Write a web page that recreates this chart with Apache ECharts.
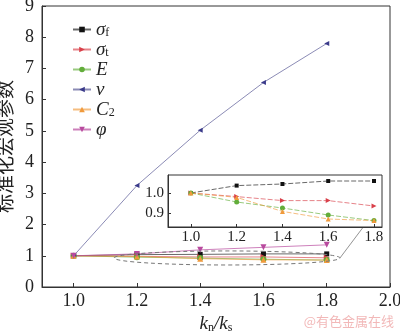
<!DOCTYPE html>
<html>
<head>
<meta charset="utf-8">
<script src="https://cdn.jsdelivr.net/npm/echarts@6/dist/echarts.min.js"></script>
<style>
  html, body { margin: 0; padding: 0; background: #fff; }
  #chart { width: 400px; height: 334px; }
</style>
</head>
<body>
<div id="chart"></div>
<script>
// Stiffness ratio kn/ks
var kRatio = [1.0, 1.2, 1.4, 1.6, 1.8];
// Normalised macro parameters
var sigmaF = [1.0, 1.037, 1.045, 1.06, 1.06];
var sigmaT = [1.0, 0.982, 0.962, 0.962, 0.935];
var modE   = [1.0, 0.955, 0.925, 0.89, 0.862];
var nu     = [1.0, 3.25, 5.02, 6.55, 7.8];
var c2     = [1.0, 0.978, 0.908, 0.87, 0.862];
var phi    = [1.0, 1.06, 1.19, 1.27, 1.35];

var xTicks = [1.0, 1.2, 1.4, 1.6, 1.8, 2.0];
var insetXTicks = [1.0, 1.2, 1.4, 1.6, 1.8];
var insetYTicks = [0.9, 1.0];

var serif = 'Liberation Serif, Times New Roman, serif';

function pairs(ys) { return kRatio.map(function (k, i) { return [k, ys[i]]; }); }

var defs = [
  { name: 'σf', data: sigmaF, color: '#111111', line: 'rgba(40,40,40,0.7)', symbol: 'rect', size: 5, inset: true },
  { name: 'σt', data: sigmaT, color: '#d9404a', line: 'rgba(217,64,74,0.65)', symbol: 'path://M0,0 L10,5 L0,10 Z', size: 6, inset: true },
  { name: 'E',  data: modE,   color: '#62ad3a', line: 'rgba(98,173,58,0.65)', symbol: 'circle', size: 6, inset: true },
  { name: 'v',  data: nu,     color: '#3a3a8a', line: 'rgba(90,90,150,0.7)', symbol: 'path://M10,0 L0,5 L10,10 Z', size: 5, inset: false },
  { name: 'C2', data: c2,     color: '#f09a3c', line: 'rgba(240,154,60,0.65)', symbol: 'triangle', size: 6, inset: true },
  { name: 'φ',  data: phi,    color: '#b84a9e', line: 'rgba(184,74,158,0.7)', symbol: 'path://M0,0 L10,0 L5,10 Z', size: 6, inset: false }
];

var series = [];
defs.forEach(function (d) {
  series.push({
    type: 'line', name: d.name, xAxisIndex: 0, yAxisIndex: 0,
    data: pairs(d.data), symbol: d.symbol, symbolSize: d.size,
    itemStyle: { color: d.color },
    lineStyle: { color: d.line, width: 1 },
    emphasis: { disabled: true }, animation: false, z: 3
  });
});
defs.forEach(function (d) {
  if (!d.inset) return;
  series.push({
    type: 'line', name: d.name + '_inset', xAxisIndex: 1, yAxisIndex: 1,
    data: pairs(d.data), symbol: d.symbol, symbolSize: d.size - 1,
    itemStyle: { color: d.color },
    lineStyle: { color: d.line, width: 1, type: [5, 2] },
    emphasis: { disabled: true }, animation: false, clip: true, z: 6
  });
});

var legendRich = {
  i: { fontFamily: serif, fontStyle: 'italic', fontSize: 19, color: '#222', lineHeight: 18 },
  s: { fontFamily: serif, fontSize: 12, color: '#222', lineHeight: 18, verticalAlign: 'bottom', padding: [6, 0, 0, 0] }
};
var legendText = {
  'σf': '{i|σ}{s|f}', 'σt': '{i|σ}{s|t}', 'E': '{i|E}', 'v': '{i|v}', 'C2': '{i|C}{s|2}', 'φ': '{i|φ}'
};

var chart = echarts.init(document.getElementById('chart'), null, { renderer: 'canvas' });

var option = {
  backgroundColor: '#fff',
  animation: false,
  legend: {
    data: defs.map(function (d) { return d.name; }),
    orient: 'vertical', left: 72, top: 20, itemGap: 1, padding: 0,
    itemWidth: 18, itemHeight: 7,
    formatter: function (n) { return legendText[n]; },
    textStyle: { rich: legendRich, fontSize: 19, lineHeight: 18 }
  },
  grid: [
    { left: 42, right: 10, top: 6, bottom: 47, outerBoundsMode: 'none', containLabel: false, show: true, borderColor: '#333', borderWidth: 1, backgroundColor: 'transparent' },
    { left: 168, top: 175, width: 214, height: 52, outerBoundsMode: 'none', containLabel: false, show: true, borderColor: '#333', borderWidth: 1, backgroundColor: '#fff', z: 5 }
  ],
  xAxis: [
    {
      type: 'value', gridIndex: 0, min: 0.9, max: 2.0,
      name: '{i|k}{s|n}{i|/k}{s|s}', nameLocation: 'middle', nameGap: 26,
      nameTextStyle: { rich: legendRich },
      axisLine: { lineStyle: { color: '#333' } },
      axisTick: { inside: true, length: 4, customValues: xTicks, lineStyle: { color: '#333' } },
      axisLabel: { customValues: xTicks, formatter: function (v) { return v.toFixed(1); }, fontFamily: serif, fontSize: 18, color: '#222', margin: 5 },
      splitLine: { show: false }
    },
    {
      type: 'value', gridIndex: 1, min: 0.9, max: 1.835,
      axisLine: { lineStyle: { color: '#333' } },
      axisTick: { inside: true, length: 3, customValues: insetXTicks, lineStyle: { color: '#333' } },
      axisLabel: { customValues: insetXTicks, formatter: function (v) { return v.toFixed(1); }, fontFamily: serif, fontSize: 15, color: '#222', margin: 3 },
      splitLine: { show: false }, z: 6
    }
  ],
  yAxis: [
    {
      type: 'value', gridIndex: 0, min: 0, max: 9, interval: 1,
      name: '标准化宏观参数', nameLocation: 'middle', nameGap: 22,
      nameTextStyle: { fontFamily: 'Noto Sans CJK SC', fontSize: 19, color: '#222' },
      axisLine: { lineStyle: { color: '#333' } },
      axisTick: { inside: true, length: 4, lineStyle: { color: '#333' } },
      axisLabel: { fontFamily: serif, fontSize: 18, color: '#222', margin: 8 },
      splitLine: { show: false }
    },
    {
      type: 'value', gridIndex: 1, min: 0.83, max: 1.09,
      axisLine: { lineStyle: { color: '#333' } },
      axisTick: { inside: true, length: 3, customValues: insetYTicks, lineStyle: { color: '#333' } },
      axisLabel: { customValues: insetYTicks, formatter: function (v) { return v.toFixed(1); }, fontFamily: serif, fontSize: 15, color: '#222', margin: 4 },
      splitLine: { show: false }, z: 6
    }
  ],
  series: series
};

chart.setOption(option);

// Dashed ellipse around the clustered curves and a leader line to the zoomed panel
var c = chart.convertToPixel({ gridIndex: 0 }, [1.485, 0.93]);
var r = chart.convertToPixel({ gridIndex: 0 }, [1.842, 0.93]);
var t = chart.convertToPixel({ gridIndex: 0 }, [1.485, 1.155]);
var lead = chart.convertToPixel({ xAxisIndex: 1, yAxisIndex: 1 }, [1.75, 0.825]);

chart.setOption({
  graphic: [
    {
      type: 'ellipse', z: 4, silent: true,
      shape: { cx: c[0], cy: c[1], rx: r[0] - c[0], ry: c[1] - t[1] },
      style: { fill: 'none', stroke: '#777', lineWidth: 1, lineDash: [4, 3] }
    },
    {
      type: 'line', z: 4, silent: true,
      shape: { x1: r[0], y1: r[1], x2: lead[0], y2: lead[1] },
      style: { stroke: '#777', lineWidth: 0.8 }
    },
    {
      type: 'text', right: 6, bottom: 6, z: 10, silent: true,
      style: { text: '@有色金属在线', fill: '#f2b8b8', font: '13px "Noto Sans CJK SC", sans-serif' }
    }
  ]
});
</script>
</body>
</html>
